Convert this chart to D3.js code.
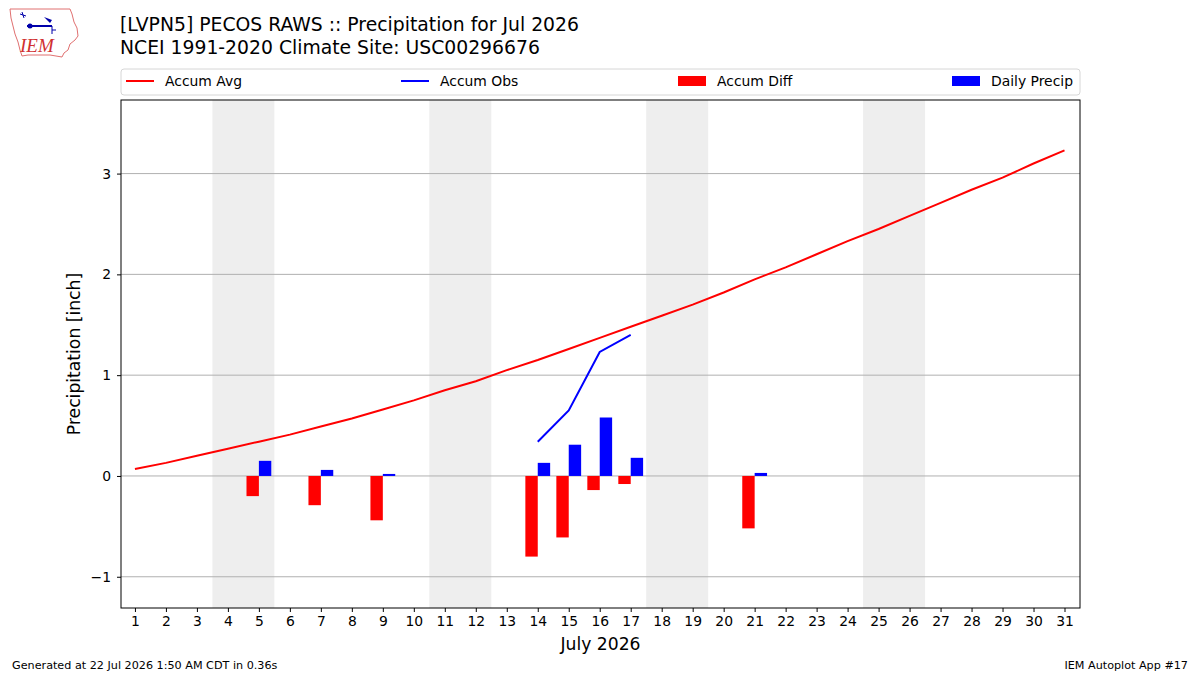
<!DOCTYPE html>
<html>
<head>
<meta charset="utf-8">
<script src="https://cdn.jsdelivr.net/npm/d3@7.9.0/dist/d3.min.js"></script>
<style>
  body { margin: 0; background: #fff; }
  svg { font-family: "DejaVu Sans", sans-serif; display: block; }
</style>
</head>
<body>
<svg id="chart" width="1200" height="675"></svg>
<script>
// days of the month
const days = d3.range(1, 32);
// climatology accumulated precipitation (inch)
const accumAvg = [0.07, 0.13, 0.20, 0.27, 0.34, 0.41, 0.49, 0.57, 0.66, 0.75,
                  0.85, 0.94, 1.05, 1.15, 1.26, 1.37, 1.48, 1.59, 1.70, 1.82,
                  1.95, 2.07, 2.20, 2.33, 2.45, 2.58, 2.71, 2.84, 2.96, 3.10, 3.23];
// observed accumulation (only reported days)
const obsDays = [14, 15, 16, 17];
const accumObs = [0.34, 0.65, 1.23, 1.40];
// days with precipitation
const precipDays = [5, 7, 9, 14, 15, 16, 17, 21];
const dailyPrecip = [0.15, 0.06, 0.02, 0.13, 0.31, 0.58, 0.18, 0.03];
const accumDiff = [-0.20, -0.29, -0.44, -0.80, -0.61, -0.14, -0.08, -0.52];
// weekend shading ranges
const weekends = [[3.5, 5.5], [10.5, 12.5], [17.5, 19.5], [24.5, 26.5]];
const yTicks = [-1, 0, 1, 2, 3];

const svg = d3.select('#chart');
const margin = { left: 121, right: 1080, top: 100, bottom: 608 };

let x = d3.scaleLinear().domain([0.55, 31.5]).range([margin.left, margin.right]);
let y = d3.scaleLinear().domain([-1.31, 3.73]).range([margin.bottom, margin.top]);

// weekend bands
svg.selectAll('rect.wk').data(weekends).join('rect')
    .attr('x', d => x(d[0]))
    .attr('width', d => x(d[1]) - x(d[0]))
    .attr('y', margin.top)
    .attr('height', margin.bottom - margin.top)
    .attr('fill', '#eeeeee');

// grid lines
svg.selectAll('line.grid').data(yTicks).join('line')
    .attr('x1', margin.left).attr('x2', margin.right)
    .attr('y1', d => y(d)).attr('y2', d => y(d))
    .attr('stroke', '#b0b0b0').attr('stroke-width', 1);

// bars
const barW = 0.4;
svg.selectAll('rect.diff').data(precipDays).join('rect')
    .attr('x', d => x(d - barW))
    .attr('width', x(barW) - x(0))
    .attr('y', (d, i) => y(Math.max(0, accumDiff[i])))
    .attr('height', (d, i) => Math.abs(y(accumDiff[i]) - y(0)))
    .attr('fill', '#ff0000');

svg.selectAll('rect.daily').data(precipDays).join('rect')
    .attr('x', d => x(d))
    .attr('width', x(barW) - x(0))
    .attr('y', (d, i) => y(dailyPrecip[i]))
    .attr('height', (d, i) => y(0) - y(dailyPrecip[i]))
    .attr('fill', '#0000ff');

// lines
let line = d3.line().x(d => x(d[0])).y(d => y(d[1]));
svg.append('path')
    .attr('d', line(days.map((d, i) => [d, accumAvg[i]])))
    .attr('fill', 'none').attr('stroke', '#ff0000').attr('stroke-width', 2);
svg.append('path')
    .attr('d', line(obsDays.map((d, i) => [d, accumObs[i]])))
    .attr('fill', 'none').attr('stroke', '#0000ff').attr('stroke-width', 2);

// frame
svg.append('rect')
    .attr('x', margin.left).attr('y', margin.top)
    .attr('width', margin.right - margin.left)
    .attr('height', margin.bottom - margin.top)
    .attr('fill', 'none').attr('stroke', '#000').attr('stroke-width', 1);

// axes
let xAxis = svg.append('g')
    .attr('transform', `translate(0,${margin.bottom})`)
    .call(d3.axisBottom(x).tickValues(days).tickFormat(d3.format('d')).tickSizeOuter(0).tickSize(4).tickPadding(4));
let yAxis = svg.append('g')
    .attr('transform', `translate(${margin.left},0)`)
    .call(d3.axisLeft(y).tickValues(yTicks).tickFormat(d => d < 0 ? '\u2212' + Math.abs(d) : d).tickSizeOuter(0).tickSize(4).tickPadding(6));
[xAxis, yAxis].forEach(g => {
    g.select('.domain').remove();
    g.selectAll('text').attr('font-size', 13.9).attr('fill', '#000').attr('font-family', 'DejaVu Sans');
    g.selectAll('line').attr('stroke', '#000');
});

svg.append('text')
    .attr('x', (margin.left + margin.right) / 2).attr('y', 650)
    .attr('text-anchor', 'middle').attr('font-size', 17.2)
    .text('July 2026');
svg.append('text')
    .attr('transform', `translate(80,${(margin.top + margin.bottom) / 2}) rotate(-90)`)
    .attr('text-anchor', 'middle').attr('font-size', 17.2)
    .text('Precipitation [inch]');

// titles
svg.append('text').attr('x', 120).attr('y', 31).attr('font-size', 18.8)
    .text('[LVPN5] PECOS RAWS :: Precipitation for Jul 2026');
svg.append('text').attr('x', 120).attr('y', 54).attr('font-size', 18.8)
    .text('NCEI 1991-2020 Climate Site: USC00296676');

// legend
let legend = svg.append('g');
legend.append('rect')
    .attr('x', 121).attr('y', 69).attr('width', 959).attr('height', 26)
    .attr('rx', 3).attr('fill', '#fff').attr('stroke', '#d6d6d6');
const legendItems = [
    { label: 'Accum Avg', color: '#ff0000', kind: 'line', x: 126 },
    { label: 'Accum Obs', color: '#0000ff', kind: 'line', x: 401 },
    { label: 'Accum Diff', color: '#ff0000', kind: 'bar', x: 678 },
    { label: 'Daily Precip', color: '#0000ff', kind: 'bar', x: 952 }
];
legendItems.forEach(d => {
    if (d.kind === 'line') {
        legend.append('line')
            .attr('x1', d.x).attr('x2', d.x + 28).attr('y1', 81).attr('y2', 81)
            .attr('stroke', d.color).attr('stroke-width', 2);
    } else {
        legend.append('rect')
            .attr('x', d.x).attr('y', 76).attr('width', 28).attr('height', 10)
            .attr('fill', d.color);
    }
    legend.append('text')
        .attr('x', d.x + 39).attr('y', 86).attr('font-size', 13.9)
        .text(d.label);
});

// footer
svg.append('text').attr('x', 12).attr('y', 669).attr('font-size', 11.2)
    .text('Generated at 22 Jul 2026 1:50 AM CDT in 0.36s');
svg.append('text').attr('x', 1188).attr('y', 669).attr('font-size', 11.2)
    .attr('text-anchor', 'end').text('IEM Autoplot App #17');

// logo (rough Iowa outline)
let logo = svg.append('g');
logo.append('path')
    .attr('d', 'M10,9 L70,9 L72,14 L74,22 L77,28 L78,36 L75,40 L70,44 L68,50 L64,53 L62,57 L50,55 L28,55 L22,56 L20,50 L18,42 L15,34 L13,26 L11,18 Z')
    .attr('fill', '#fff').attr('stroke', '#e07070').attr('stroke-width', 1);
logo.append('text').attr('x', 20).attr('y', 52)
    .attr('font-family', 'Liberation Serif, serif').attr('font-style', 'italic')
    .attr('font-size', 19).attr('fill', '#d03030').text('IEM');
logo.append('line').attr('x1', 27).attr('x2', 52).attr('y1', 26).attr('y2', 26)
    .attr('stroke', '#0000aa').attr('stroke-width', 2);
logo.append('circle').attr('cx', 30).attr('cy', 26).attr('r', 2.5).attr('fill', '#0000aa');
logo.append('path').attr('d', 'M44,17 L52,20 L50,23 Z').attr('fill', '#0000aa');
logo.append('path').attr('d', 'M22,12 L24,18 M20,14 L26,16 M52,26 L52,34 M52,30 L56,30')
    .attr('stroke', '#0000aa').attr('stroke-width', 1).attr('fill', 'none');
</script>
</body>
</html>
